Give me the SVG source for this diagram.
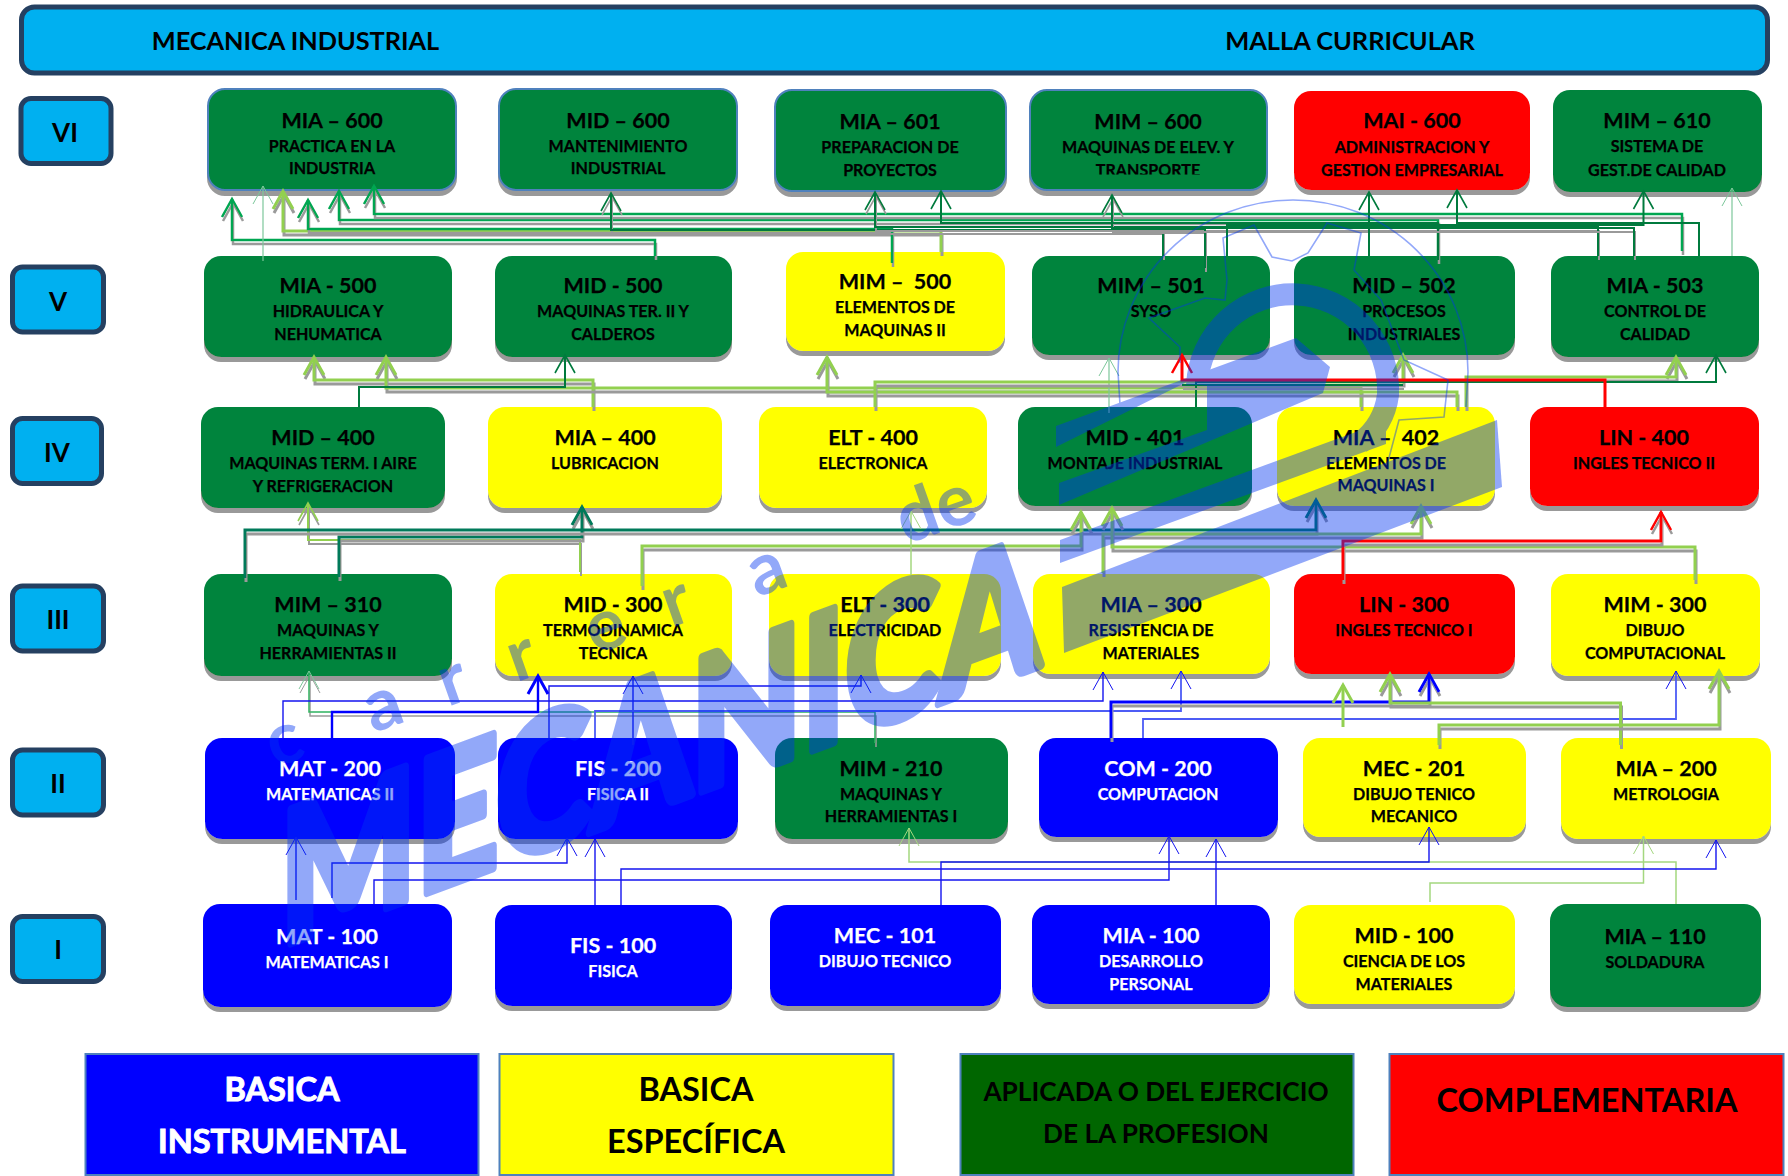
<svg xmlns="http://www.w3.org/2000/svg" width="1788" height="1176" viewBox="0 0 1788 1176">
<style>
text{font-family:"Lato","Open Sans","Liberation Sans",sans-serif;font-weight:700;text-anchor:middle;fill:#000}
.c{font-size:21.5px;stroke:#000;stroke-width:.25}.s{font-size:16.1px;stroke:#000;stroke-width:.25}
.w text{fill:#fff;stroke:#fff}
.bx{rx:17px;ry:17px;filter:url(#ns)}
.G{fill:#00843E}.Y{fill:#FFFF00}.R{fill:#FF0000}.B{fill:#0000FF}
.o{stroke:#4F81BD;stroke-width:2}
.lv rect{fill:#00B0F0;stroke:#254061;stroke-width:5;rx:10px;ry:10px}
.lv text{font-size:26px}
.lg rect{stroke:#4F81BD;stroke-width:2}
.lg text{font-size:32.5px}
#connectors polyline{fill:none}
.tk{filter:url(#ls)}
.lime{stroke:#92D050;stroke-width:3;marker-end:url(#mL)}
.lime2{stroke:#92D050;stroke-width:2;marker-end:url(#mL1)}
.limet{stroke:#A4D77F;stroke-width:1.5;marker-end:url(#mL0)}
.grn{stroke:#00A651;stroke-width:2.5;marker-end:url(#mG)}
.drk{stroke:#007A3D;stroke-width:2;marker-end:url(#mD)}
.drk0{stroke:#007A3D;stroke-width:2}
.teal{stroke:#007A5A;stroke-width:3;marker-end:url(#mT)}
.pale{stroke:#7CC79A;stroke-width:1.2;marker-end:url(#mW)}
.sg{stroke:#2DB35F;stroke-width:1.5;marker-end:url(#mW)}
.red{stroke:#FF0000;stroke-width:3;marker-end:url(#mR)}
.blu3{stroke:#0000FF;stroke-width:3;marker-end:url(#mB)}
.blu{stroke:#1414F0;stroke-width:1.4;marker-end:url(#mB0)}
.per{stroke:#4D5CF5;stroke-width:1.8;marker-end:url(#mB0)}
.wm{opacity:.43;fill:#0035F2}
.wm text{fill:#0035F2;stroke:#0035F2}
</style>
<defs>
<filter id="ns" x="-5%" y="-5%" width="110%" height="115%"><feDropShadow dx="0" dy="5" stdDeviation=".6" flood-color="#999"/></filter>
<filter id="ls" filterUnits="userSpaceOnUse" x="0" y="0" width="1788" height="1176"><feDropShadow dx="1" dy="4" stdDeviation=".4" flood-color="#9a9a9a"/></filter>
<clipPath id="cl"><rect x="1030" y="90" width="237" height="84.5"/></clipPath>
<marker id="mL" markerUnits="userSpaceOnUse" overflow="visible" orient="auto" markerWidth="20" markerHeight="24"><path d="M-18-10 0 0-18 10" fill="none" stroke="#92D050" stroke-width="3"/></marker>
<marker id="mL1" markerUnits="userSpaceOnUse" overflow="visible" orient="auto" markerWidth="20" markerHeight="24"><path d="M-18-10 0 0-18 10" fill="none" stroke="#92D050" stroke-width="1.6"/></marker>
<marker id="mL0" markerUnits="userSpaceOnUse" overflow="visible" orient="auto" markerWidth="20" markerHeight="24"><path d="M-18-10 0 0-18 10" fill="none" stroke="#A4D77F" stroke-width="1"/></marker>
<marker id="mG" markerUnits="userSpaceOnUse" overflow="visible" orient="auto" markerWidth="20" markerHeight="24"><path d="M-18-10 0 0-18 10" fill="none" stroke="#00A651" stroke-width="2.5"/></marker>
<marker id="mD" markerUnits="userSpaceOnUse" overflow="visible" orient="auto" markerWidth="20" markerHeight="24"><path d="M-18-10 0 0-18 10" fill="none" stroke="#007A3D" stroke-width="1.6"/></marker>
<marker id="mT" markerUnits="userSpaceOnUse" overflow="visible" orient="auto" markerWidth="20" markerHeight="24"><path d="M-18-10 0 0-18 10" fill="none" stroke="#007A5A" stroke-width="3"/></marker>
<marker id="mW" markerUnits="userSpaceOnUse" overflow="visible" orient="auto" markerWidth="20" markerHeight="24"><path d="M-18-10 0 0-18 10" fill="none" stroke="#7CC79A" stroke-width="1"/></marker>
<marker id="mR" markerUnits="userSpaceOnUse" overflow="visible" orient="auto" markerWidth="20" markerHeight="24"><path d="M-18-10 0 0-18 10" fill="none" stroke="#FF0000" stroke-width="2.5"/></marker>
<marker id="mB" markerUnits="userSpaceOnUse" overflow="visible" orient="auto" markerWidth="20" markerHeight="24"><path d="M-18-10 0 0-18 10" fill="none" stroke="#0000FF" stroke-width="3"/></marker>
<marker id="mB0" markerUnits="userSpaceOnUse" overflow="visible" orient="auto" markerWidth="20" markerHeight="24"><path d="M-18-10 0 0-18 10" fill="none" stroke="#1414F0" stroke-width="1"/></marker>
</defs>

<g id="header">
<rect x="21.5" y="7" width="1746" height="66" rx="13" fill="#00B0F0" stroke="#254061" stroke-width="5"/>
<text x="295.5" y="50" font-size="25.3">MECANICA INDUSTRIAL</text>
<text x="1350" y="50" font-size="25.4">MALLA CURRICULAR</text>
</g>

<g id="levels" class="lv">
<g id="lv-6"><rect x="21" y="98.5" width="90" height="65"/><text x="65" y="142">VI</text></g>
<g id="lv-5"><rect x="12.5" y="267" width="91" height="65"/><text x="58" y="311">V</text></g>
<g id="lv-4"><rect x="12.5" y="418.5" width="89" height="65"/><text x="57" y="462">IV</text></g>
<g id="lv-3"><rect x="12.5" y="586" width="91" height="65"/><text x="58" y="629">III</text></g>
<g id="lv-2"><rect x="12.5" y="750" width="91" height="65"/><text x="58" y="793">II</text></g>
<g id="lv-1"><rect x="12.5" y="916.5" width="91" height="65"/><text x="58" y="959">I</text></g>
</g>

<g id="n-mia600"><rect class="bx G o" x="208" y="89" width="248" height="101"/><text class="c" x="332" y="128">MIA – 600</text><text class="s" x="332" y="152">PRACTICA EN LA</text><text class="s" x="332" y="174">INDUSTRIA</text></g>
<g id="n-mid600"><rect class="bx G o" x="499" y="89" width="238" height="101"/><text class="c" x="618" y="128">MID – 600</text><text class="s" x="618" y="152">MANTENIMIENTO</text><text class="s" x="618" y="174">INDUSTRIAL</text></g>
<g id="n-mia601"><rect class="bx G o" x="775" y="90" width="231" height="101"/><text class="c" x="890" y="129">MIA – 601</text><text class="s" x="890" y="153">PREPARACION DE</text><text class="s" x="890" y="176">PROYECTOS</text></g>
<g id="n-mim600"><rect class="bx G o" x="1030" y="90" width="237" height="100"/><text class="c" x="1148" y="129">MIM – 600</text><text class="s" x="1148" y="153">MAQUINAS DE ELEV. Y</text><text class="s" x="1148" y="176" clip-path="url(#cl)">TRANSPORTE</text></g>
<g id="n-mai600"><rect class="bx R" x="1294" y="91" width="236" height="99"/><text class="c" x="1412" y="128">MAI - 600</text><text class="s" x="1412" y="153">ADMINISTRACION Y</text><text class="s" x="1412" y="176">GESTION EMPRESARIAL</text></g>
<g id="n-mim610"><rect class="bx G" x="1553" y="90" width="209" height="102"/><text class="c" x="1657" y="128">MIM – 610</text><text class="s" x="1657" y="152">SISTEMA DE</text><text class="s" x="1657" y="176">GEST.DE CALIDAD</text></g>

<g id="n-mia500"><rect class="bx G" x="204" y="256" width="248" height="101"/><text class="c" x="328" y="293">MIA - 500</text><text class="s" x="328" y="317">HIDRAULICA Y</text><text class="s" x="328" y="340">NEHUMATICA</text></g>
<g id="n-mid500"><rect class="bx G" x="495" y="256" width="237" height="101"/><text class="c" x="613" y="293">MID - 500</text><text class="s" x="613" y="317">MAQUINAS TER. II Y</text><text class="s" x="613" y="340">CALDEROS</text></g>
<g id="n-mim500"><rect class="bx Y" x="786" y="252" width="219" height="99"/><text class="c" x="895" y="289" xml:space="preserve">MIM –  500</text><text class="s" x="895" y="313">ELEMENTOS DE</text><text class="s" x="895" y="336">MAQUINAS II</text></g>
<g id="n-mim501"><rect class="bx G" x="1032" y="256" width="238" height="99"/><text class="c" x="1151" y="293">MIM – 501</text><text class="s" x="1151" y="317">SYSO</text></g>
<g id="n-mid502"><rect class="bx G" x="1294" y="256" width="221" height="99"/><text class="c" x="1404" y="293">MID – 502</text><text class="s" x="1404" y="317">PROCESOS</text><text class="s" x="1404" y="340">INDUSTRIALES</text></g>
<g id="n-mia503"><rect class="bx G" x="1551" y="256" width="208" height="101"/><text class="c" x="1655" y="293">MIA - 503</text><text class="s" x="1655" y="317">CONTROL DE</text><text class="s" x="1655" y="340">CALIDAD</text></g>

<g id="n-mid400"><rect class="bx G" x="201" y="407" width="244" height="101"/><text class="c" x="323" y="445">MID – 400</text><text class="s" x="323" y="469">MAQUINAS TERM. I AIRE</text><text class="s" x="323" y="492">Y REFRIGERACION</text></g>
<g id="n-mia400"><rect class="bx Y" x="488" y="407" width="234" height="101"/><text class="c" x="605" y="445">MIA – 400</text><text class="s" x="605" y="469">LUBRICACION</text></g>
<g id="n-elt400"><rect class="bx Y" x="759" y="407" width="228" height="101"/><text class="c" x="873" y="445">ELT - 400</text><text class="s" x="873" y="469">ELECTRONICA</text></g>
<g id="n-mid401"><rect class="bx G" x="1018" y="407" width="234" height="99"/><text class="c" x="1135" y="445">MID - 401</text><text class="s" x="1135" y="469">MONTAJE INDUSTRIAL</text></g>
<g id="n-mia402"><rect class="bx Y" x="1277" y="407" width="218" height="99"/><text class="c" x="1386" y="445" xml:space="preserve">MIA –  402</text><text class="s" x="1386" y="469">ELEMENTOS DE</text><text class="s" x="1386" y="491">MAQUINAS I</text></g>
<g id="n-lin400"><rect class="bx R" x="1530" y="407" width="229" height="99"/><text class="c" x="1644" y="445">LIN - 400</text><text class="s" x="1644" y="469">INGLES TECNICO II</text></g>

<g id="n-mim310"><rect class="bx G" x="204" y="574" width="248" height="102"/><text class="c" x="328" y="612">MIM – 310</text><text class="s" x="328" y="636">MAQUINAS Y</text><text class="s" x="328" y="659">HERRAMIENTAS II</text></g>
<g id="n-mid300"><rect class="bx Y" x="495" y="574" width="237" height="102"/><text class="c" x="613" y="612">MID - 300</text><text class="s" x="613" y="636">TERMODINAMICA</text><text class="s" x="613" y="659">TECNICA</text></g>
<g id="n-elt300"><rect class="bx Y" x="769" y="574" width="232" height="102"/><text class="c" x="885" y="612">ELT - 300</text><text class="s" x="885" y="636">ELECTRICIDAD</text></g>
<g id="n-mia300"><rect class="bx Y" x="1033" y="574" width="237" height="100"/><text class="c" x="1151" y="612">MIA – 300</text><text class="s" x="1151" y="636">RESISTENCIA DE</text><text class="s" x="1151" y="659">MATERIALES</text></g>
<g id="n-lin300"><rect class="bx R" x="1294" y="574" width="221" height="100"/><text class="c" x="1404" y="612">LIN - 300</text><text class="s" x="1404" y="636">INGLES TECNICO I</text></g>
<g id="n-mim300"><rect class="bx Y" x="1551" y="574" width="209" height="102"/><text class="c" x="1655" y="612">MIM - 300</text><text class="s" x="1655" y="636">DIBUJO</text><text class="s" x="1655" y="659">COMPUTACIONAL</text></g>

<g id="n-mat200" class="w"><rect class="bx B" x="205" y="738" width="250" height="101"/><text class="c" x="330" y="776">MAT - 200</text><text class="s" x="330" y="800">MATEMATICAS II</text></g>
<g id="n-fis200" class="w"><rect class="bx B" x="498" y="738" width="240" height="101"/><text class="c" x="618" y="776">FIS - 200</text><text class="s" x="618" y="800">FISICA II</text></g>
<g id="n-mim210"><rect class="bx G" x="775" y="738" width="233" height="101"/><text class="c" x="891" y="776">MIM - 210</text><text class="s" x="891" y="800">MAQUINAS Y</text><text class="s" x="891" y="822">HERRAMIENTAS I</text></g>
<g id="n-com200" class="w"><rect class="bx B" x="1039" y="738" width="239" height="99"/><text class="c" x="1158" y="776">COM - 200</text><text class="s" x="1158" y="800">COMPUTACION</text></g>
<g id="n-mec201"><rect class="bx Y" x="1303" y="738" width="223" height="99"/><text class="c" x="1414" y="776">MEC - 201</text><text class="s" x="1414" y="800">DIBUJO TENICO</text><text class="s" x="1414" y="822">MECANICO</text></g>
<g id="n-mia200"><rect class="bx Y" x="1561" y="738" width="210" height="101"/><text class="c" x="1666" y="776">MIA – 200</text><text class="s" x="1666" y="800">METROLOGIA</text></g>

<g id="n-mat100" class="w"><rect class="bx B" x="203" y="904" width="249" height="103"/><text class="c" x="327" y="944">MAT - 100</text><text class="s" x="327" y="968">MATEMATICAS I</text></g>
<g id="n-fis100" class="w"><rect class="bx B" x="495" y="905" width="237" height="101"/><text class="c" x="613" y="953">FIS - 100</text><text class="s" x="613" y="977">FISICA</text></g>
<g id="n-mec101" class="w"><rect class="bx B" x="770" y="905" width="231" height="101"/><text class="c" x="885" y="943">MEC - 101</text><text class="s" x="885" y="967">DIBUJO TECNICO</text></g>
<g id="n-mia100" class="w"><rect class="bx B" x="1032" y="905" width="238" height="99"/><text class="c" x="1151" y="943">MIA - 100</text><text class="s" x="1151" y="967">DESARROLLO</text><text class="s" x="1151" y="990">PERSONAL</text></g>
<g id="n-mid100"><rect class="bx Y" x="1294" y="905" width="221" height="99"/><text class="c" x="1404" y="943">MID - 100</text><text class="s" x="1404" y="967">CIENCIA DE LOS</text><text class="s" x="1404" y="990">MATERIALES</text></g>
<g id="n-mia110"><rect class="bx G" x="1550" y="904" width="211" height="103"/><text class="c" x="1655" y="944">MIA – 110</text><text class="s" x="1655" y="968">SOLDADURA</text></g>

<g id="legend" class="lg">
<g id="lg-blue" class="w"><rect class="B" x="85.5" y="1054" width="393" height="121"/><text x="282" y="1101">BASICA</text><text x="282" y="1153">INSTRUMENTAL</text></g>
<g id="lg-yellow"><rect class="Y" x="499.5" y="1054" width="394" height="121"/><text x="696" y="1101">BASICA</text><text x="696" y="1153">ESPECÍFICA</text></g>
<g id="lg-green"><rect fill="#006600" x="960.5" y="1054" width="393" height="121"/><text x="1156" y="1101" style="font-size:26.2px">APLICADA O DEL EJERCICIO</text><text x="1156" y="1143" style="font-size:26.2px">DE LA PROFESION</text></g>
<g id="lg-red"><rect class="R" x="1389.5" y="1054" width="394" height="121"/><text x="1587" y="1112">COMPLEMENTARIA</text></g>
</g>

<g id="connectors">
<polyline class="limet" points="1430,902 1430,883 1643.5,883 1643.5,836"/>
<polyline class="limet" points="1676,904 1676,862 909,862 909,828"/>
<polyline class="sg tk" points="875,743 875,712 309,712 309,671"/>
<polyline class="blu" points="296,900 296,837"/>
<polyline class="blu" points="332,898 332,863 567,863 567,838"/>
<polyline class="blu" points="595,905 595,839"/>
<polyline class="blu" points="374,904 374,880 1169,880 1169,836"/>
<polyline class="blu" points="621,905 621,869 1716,869 1716,840"/>
<polyline class="blu" points="941,905 941,862 1429,862 1429,827"/>
<polyline class="blu" points="1216,905 1216,839"/>
<polyline class="blu" points="283,738 283,701 1103,701 1103,672"/>
<polyline class="blu" points="549,738 549,686 861,686 861,675"/>
<polyline class="blu" points="633,745 633,676"/>
<polyline class="per" points="595,738 595,711 1181,711 1181,671"/>
<polyline class="per" points="1143,738 1143,719 1676,719 1676,671"/>
<polyline class="blu3" points="332,738 332,712 538,712 538,676" style="stroke-width:2.4"/>
<polyline class="blu3 tk" points="1111,738 1111,702 1429,702 1429,674"/>
<polyline class="lime" points="1343,727 1343,685"/>
<polyline class="lime tk" points="1620.5,745 1620.5,703 1390,703 1390,674"/>
<polyline class="lime tk" points="1439,745 1439,725 1719,725 1719,671"/>

<polyline class="lime2 tk" points="580,572 580,540 308,540 308,503"/>
<polyline class="teal tk" points="339,577 339,537 582,537 582,507"/>
<polyline class="teal tk" points="245,578 245,530 1316,530 1316,500"/>
<polyline class="lime tk" points="642,586 642,546 1081,546 1081,512"/>
<polyline class="limet" points="911,575 911,511"/>
<polyline class="lime tk" points="1103,573 1103,534 1421,534 1421,506"/>
<polyline class="lime tk" points="1695,580 1695,547 1112,547 1112,508"/>
<polyline class="red tk" points="1343,580 1343,541 1661,541 1661,512"/>

<polyline class="lime tk" points="593,407 593,380 314,380 314,357"/>
<polyline class="lime tk" points="1361,407 1361,388 386,388 386,357"/>
<polyline class="drk" points="359,407 359,387 565,387 565,355"/>
<polyline class="lime tk" points="1457,407 1457,392 827,392 827,357"/>
<polyline class="pale" points="1109,413 1109,358"/>
<polyline class="lime tk" points="875,407 875,382 1403,382 1403,355"/>
<polyline class="lime tk" points="1466,407 1466,377 1676,377 1676,357"/>
<polyline class="drk" points="1196,407 1196,382 1716,382 1716,355"/>
<polyline class="drk0 tk" points="1182,385 1403,385"/>
<polyline class="red" points="1605,407 1605,380 1182,380 1182,355"/>

<polyline class="grn tk" points="655,256 655,240 232,240 232,199"/>
<polyline class="pale" points="263,261 263,186"/>
<polyline class="lime tk" points="941,252 941,231 283,231 283,191"/>
<polyline class="grn tk" points="892,263 892,229 308,229 308,200"/>
<polyline class="grn tk" points="1438,260 1438,220 339,220 339,191"/>
<polyline class="grn tk" points="1682,251 1682,214 374,214 374,186"/>
<polyline class="drk tk" points="1163,256 1163,230 611,230 611,193"/>
<polyline class="drk tk" points="1598,256 1598,227 875,227 875,192"/>
<polyline class="drk tk" points="1205,268 1205,229 1112,229 1112,195"/>
<polyline class="drk" points="1438,260 1438,223 941,223 941,191"/>
<polyline class="drk0 tk" points="1634,256 1634,228 1112,228"/>
<polyline class="drk" points="1369,256 1369,192"/>
<polyline class="drk" points="1699,256 1699,223 1457,223 1457,190"/>
<polyline class="drk" points="1227,256 1227,225 1643.5,225 1643.5,191"/>
<polyline class="pale" points="1732,256 1732,188"/>
</g>

<g id="watermark" class="wm">
<text transform="rotate(-19.5 275 768)" y="768" style="font-size:72px;font-weight:700;stroke-width:0;text-anchor:start" x="275 379 458 531 614 695 786 885 944">carrera de</text>
<text transform="matrix(1 -.37 0 1 280 947)" x="0" y="0" textLength="760" lengthAdjust="spacingAndGlyphs" style="font-size:184px;font-weight:900;stroke-width:9;stroke-linejoin:round;text-anchor:start">MECANICA</text>
<polygon points="1056,426 1296,338 1330,367 1323,393 1059,505 1059,483 1207,430 1207,372 1056,447"/>
<polygon points="1060,540 1386,421 1386,444 1060,563"/>
<polygon points="1062,587 1497,420 1502,487 1064,653"/>
<path d="M1197,385A95,95 0 1 1 1388,395Q1384,425 1360,443" fill="none" stroke="#0035F2" stroke-width="22"/>
<g fill="none" stroke="#0035F2" stroke-width="1.6">
<path d="M1120,405 1118,372A175,172 0 0 1 1468,372L1466,407"/>
<path d="M1180,363 1180,347 1149,318 1205,298 1225,300 1227,280 1223,238 1254,225 1272,257 1292,261 1308,253 1327,223 1361,233 1354,270 1381,300 1404,360 1448,380 1444,417 1399,420 1377,503"/>
</g>
</g>
</svg>
